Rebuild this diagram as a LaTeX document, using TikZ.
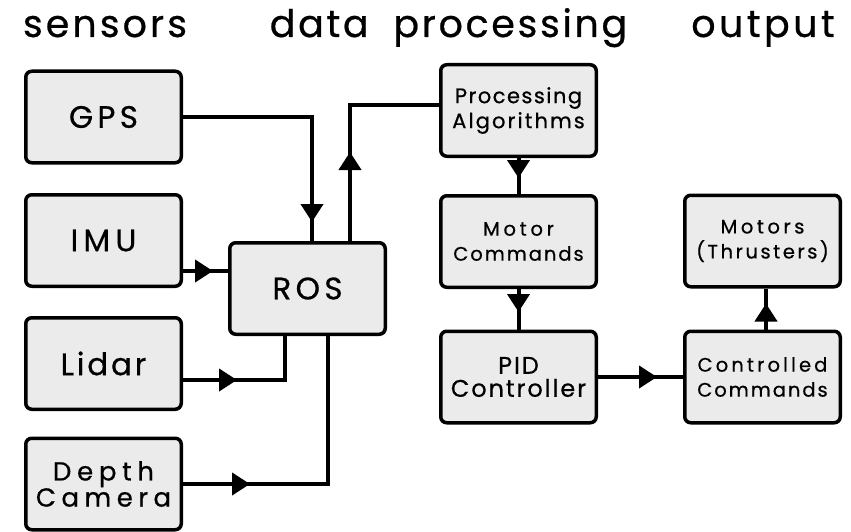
\documentclass[tikz,border=0pt]{standalone}
\usepackage{fontspec}
\setmainfont{Poppins}
\newfontfamily\hdrfont[FakeBold=0.6]{Poppins}
\newfontfamily\bxfont[FakeBold=0.6]{Poppins}
\newcommand\lsp[2]{{\addfontfeatures{LetterSpace=#1}#2}}
\usetikzlibrary{arrows.meta,decorations.markings,calc}
\definecolor{boxgray}{HTML}{EBEBEB}
\begin{document}
\begin{tikzpicture}[x=1pt,y=-1pt,
  box/.style={draw=black, line width=3.5pt, fill=boxgray, rounded corners=6pt,
    minimum width=155.5pt, minimum height=91.5pt, inner sep=0pt, align=center, text=black},
  bigtxt/.style={font=\bxfont\fontsize{31}{36}\selectfont},
  midtxt/.style={font=\bxfont\fontsize{26}{23}\selectfont},
  pidtxt/.style={font=\bxfont\fontsize{24}{23}\selectfont},
  smalltxt/.style={font=\bxfont\fontsize{21}{25}\selectfont},
  tinytxt/.style={font=\bxfont\fontsize{19.5}{25}\selectfont},
  hdr/.style={font=\hdrfont\fontsize{38}{44}\selectfont, inner sep=0pt, anchor=base},
  conn/.style={draw=black, line width=4pt, line join=miter},
  tipat/.style={decoration={markings, mark=at position #1 with {\arrow{Triangle[width=22pt,length=18pt]}}}, postaction={decorate}},
]
\useasboundingbox (0,0) rectangle (851,532);
% headers
\node[hdr] (hs) at (105,37) {\lsp{8}{sensors}};
\node[hdr] (hd) at (448.5,37) {\lsp{7}{data\hspace{12pt} processing}};
\node[hdr] (ho) at (763,37) {\lsp{9}{output}};
% sensor boxes
\node[box, bigtxt] (gps) at (103.5,117) {\lsp{14}{GPS}};
\node[box, bigtxt] (imu) at (103.5,240.5) {\lsp{17}{IMU}};
\node[box, bigtxt] (lidar) at (103.5,363.5) {\lsp{9}{Lidar}};
\node[box, midtxt] (depth) at (103.5,484) {\lsp{22}{Depth}\\\lsp{21}{Camera}};
\node[box, bigtxt] (ros) at (307.5,288.5) {\lsp{14}{ROS}};
% processing
\node[box, smalltxt] (proc) at (518.5,110.5) {\lsp{7}{Processing}\\\lsp{10}{Algorithms}};
\node[box, tinytxt] (mcmd) at (518.5,241.5) {\lsp{19}{Motor}\\\lsp{10}{Commands}};
\node[box, pidtxt] (pid) at (518.5,377) {\lsp{8}{PID}\\\lsp{8}{Controller}};
% output
\node[box, tinytxt] (motors) at (762.5,241) {\lsp{18}{Motors}\\\lsp{13}{(Thrusters)}};
\node[box, tinytxt] (ctrl) at (762.5,377) {\lsp{16}{Controlled}\\\lsp{10}{Commands}};
% connectors
\draw[conn, tipat=234pt] (gps.east) -| ([xshift=4.5pt]ros.north);
\draw[conn, tipat=89pt] ([xshift=42.5pt]ros.north) |- ([yshift=5.5pt]proc.west);
\draw[conn, tipat=30pt] ([yshift=-30.5pt]imu.east) -- ([yshift=-30.5pt]imu.east -| ros.west);
\draw[conn, tipat=54pt] ([yshift=-16.5pt]lidar.east) -| ([xshift=-22.5pt]ros.south);
\draw[conn, tipat=67pt] (depth.east) -| ([xshift=20.5pt]ros.south);
\draw[conn, tipat=20pt] (proc.south) -- (mcmd.north);
\draw[conn, tipat=23pt] (mcmd.south) -- (pid.north);
\draw[conn, tipat=59pt] (pid.east) -- (ctrl.west);
\draw[conn, tipat=26pt] ([xshift=3.5pt]ctrl.north) -- ([xshift=3.5pt]motors.south);
\end{tikzpicture}
\end{document}
